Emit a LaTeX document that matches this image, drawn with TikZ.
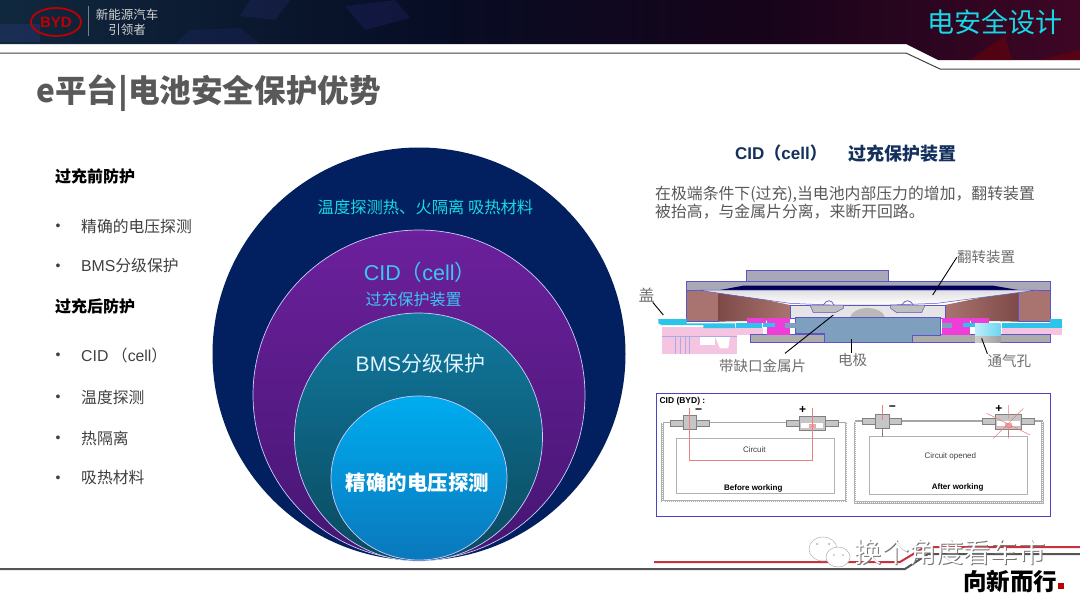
\documentclass[tikz,border=0pt]{standalone}
\usepackage{fontspec}
\setmainfont{Noto Sans CJK SC}
\newfontfamily\latinf{Liberation Sans}
\usetikzlibrary{shapes.geometric}
\definecolor{txtgray}{HTML}{404040}
\definecolor{ttlgray}{HTML}{595959}
\definecolor{cya}{HTML}{16D8E6}
\definecolor{cyb}{HTML}{3AC8F0}
\definecolor{lblgray}{HTML}{6E6E6E}
\definecolor{csline}{HTML}{5A55C8}
\definecolor{brownA}{HTML}{A9746F}
\definecolor{brownB}{HTML}{7E4A48}
\definecolor{platg}{HTML}{A8A8B6}
\definecolor{magen}{HTML}{F03CD8}
\definecolor{cyanb}{HTML}{2CC4EA}
\definecolor{pinkb}{HTML}{F4C4E0}
\definecolor{elec}{HTML}{7F9FBE}
\definecolor{wallg}{HTML}{B0B0B0}
\definecolor{redc}{HTML}{E88080}
\definecolor{hdA}{HTML}{10283E}
\definecolor{hdB}{HTML}{070D24}
\definecolor{hdC}{HTML}{16041A}
\definecolor{hdD}{HTML}{3E0624}
\definecolor{cB}{HTML}{02205F}
\definecolor{cC}{HTML}{6C209C}
\definecolor{cD}{HTML}{451672}
\definecolor{cE}{HTML}{11789E}
\definecolor{cF}{HTML}{0A4A5E}
\definecolor{cG}{HTML}{00ACF0}
\definecolor{cH}{HTML}{0A78BC}
\definecolor{frameb}{HTML}{4A44C0}
\definecolor{redl}{HTML}{C8323C}
\definecolor{grayl}{HTML}{555555}
\definecolor{rtitle}{HTML}{14305C}
\pgfdeclarehorizontalshading{hdshade}{100bp}{color(0bp)=(hdA); color(25bp)=(hdA); color(45bp)=(hdB); color(60bp)=(hdC); color(75bp)=(hdD); color(100bp)=(hdD)}
\tikzset{
 fs/.style={font=\fontsize{#1}{#1}\selectfont},
 listhead/.style={anchor=west,inner sep=0pt,text=black,font=\fontsize{16}{16}\selectfont\bfseries},
 listitem/.style={anchor=west,inner sep=0pt,text=txtgray,font=\fontsize{15.8}{16}\selectfont},
 bul/.style={anchor=center,inner sep=0pt,text=txtgray,font=\latinf\fontsize{14}{14}\selectfont},
 cspart/.style={draw=csline,line width=0.5pt},
 lead/.style={draw=black,line width=0.9pt},
 cslabel/.style={text=lblgray,inner sep=0pt},
 wall/.style={draw=wallg,line width=2.6pt},
 hatchw/.style={draw=white,line width=.5pt,dash pattern=on 1pt off 1pt},
 term/.style={draw=gray,fill=gray!45,line width=0.4pt},
 circ/.style={text=black!75,inner sep=0pt,font=\latinf\fontsize{8}{9}\selectfont},
 circb/.style={text=black,inner sep=0pt,font=\latinf\bfseries\fontsize{8}{9}\selectfont},
 signn/.style={text=black,inner sep=0pt,font=\latinf\bfseries\fontsize{12}{12}\selectfont},
 redw/.style={draw=redc,line width=0.6pt},
 ring/.style={draw=white!80!blue,line width=.7pt,shading angle=45},
}
\begin{document}
\begin{tikzpicture}[x=1pt,y=-1pt]
\useasboundingbox (0,0) rectangle (1080,600);
\fill[white] (0,0) rectangle (1080,600);
% header band
\shade[shading=hdshade] (0,0) -- (1080,0) -- (1080,60) -- (938,60) -- (906,44) -- (0,44) -- cycle;
\fill[blue!40!gray,opacity=.18] (0,24) rectangle (40,42);
\fill[blue!45!gray,opacity=.14] (250,0) -- (290,0) -- (275,20) -- (240,16) -- cycle;
\fill[blue!50!gray,opacity=.16] (345,6) -- (395,0) -- (410,18) -- (365,30) -- cycle;
\fill[blue!50!gray,opacity=.12] (190,30) -- (240,28) -- (260,44) -- (175,44) -- cycle;
\fill[red!50!black,opacity=.4] (970,60) -- (1005,35) -- (1012,60) -- cycle;
\fill[red!50!black,opacity=.4] (1040,60) -- (1080,50) -- (1080,60) -- cycle;
\draw[black!75,line width=1pt] (0,53) -- (906,53) -- (940,69) -- (1080,69);
% logo
\node[ellipse,draw=red!75!black,line width=1.8pt,minimum width=50pt,minimum height=28pt,inner sep=0pt,text=red!75!black,font=\latinf\bfseries\fontsize{15}{15}\selectfont] (logo) at (56,22) {BYD};
\draw[gray,line width=.5pt] (88,6) -- (88,36);
\node[text=gray!35,fs=12.5] (slogana) at (127,14.5) {新能源汽车};
\node[text=gray!35,fs=12.5] (sloganb) at (127,30) {引领者};
\node[text=cya,fs=27] (section) at (995,22) {电安全设计};
\node[anchor=west,text=ttlgray,inner sep=0pt,font=\fontsize{31.6}{32}\selectfont\bfseries] (title) at (36,93) {e平台|电池安全保护优势};
% left list
\node[listhead] (h1) at (55,176) {过充前防护};
\node[bul] (b1) at (58,227) {•};
\node[listitem] (i1) at (81,226) {精确的电压探测};
\node[bul] (b2) at (58,267) {•};
\node[listitem] (i2) at (81,266) {{\latinf BMS}分级保护};
\node[listhead] (h2) at (55,306) {过充后防护};
\node[bul] (b3) at (58,356) {•};
\node[listitem] (i3) at (81,355) {{\latinf CID} （{\latinf cell}）};
\node[bul] (b4) at (58,398) {•};
\node[listitem] (i4) at (81,397) {温度探测};
\node[bul] (b5) at (58,439) {•};
\node[listitem] (i5) at (81,438) {热隔离};
\node[bul] (b6) at (58,479) {•};
\node[listitem] (i6) at (81,478) {吸热材料};
% circles
\fill[cB] (419,354) circle (206.5);
\shade[ring,top color=cC,bottom color=cD] (419,395) ellipse (166 and 165);
\shade[ring,top color=cE,bottom color=cF] (418.5,437) circle (124);
\shade[ring,top color=cG,bottom color=cH] (419,478) ellipse (88 and 82);
\node[text=cya,fs=16.3] (c1) at (425.5,207) {温度探测热、火隔离 吸热材料};
\node[text=cyb,font=\latinf\fontsize{21.5}{22}\selectfont,inner sep=0pt] (c2) at (420,272) {CID{\rmfamily\fontsize{21.5}{22}\selectfont（}cell{\rmfamily\fontsize{21.5}{22}\selectfont）}};
\node[text=cyb,fs=16] (c3) at (413.5,299) {过充保护装置};
\node[text=white!88!cyan,fs=21] (c4) at (420.5,364) {{\latinf BMS}分级保护};
\node[text=white,font=\fontsize{20.5}{21}\selectfont\bfseries] (c5) at (417.5,483) {精确的电压探测};
% right texts
\node[text=rtitle,anchor=west,inner sep=0pt,font=\fontsize{17}{18}\selectfont\bfseries] (r1) at (735,153) {{\latinf\bfseries CID}（{\latinf\bfseries cell}）};
\node[text=rtitle,anchor=west,inner sep=0pt,font=\fontsize{18}{18}\selectfont\bfseries] (r2) at (848,154) {过充保护装置};
\node[text=ttlgray,anchor=west,inner sep=0pt,fs=15.85] (p1) at (655,194) {在极端条件下(过充),当电池内部压力的增加，翻转装置};
\node[text=ttlgray,anchor=west,inner sep=0pt,fs=15.85] (p2) at (655,212) {被抬高，与金属片分离，来断开回路。};
% cross-section
\begin{scope}[shift={(630,240)},x=0.33333pt,y=-0.33333pt]
 % pink lower parts
 \fill[pinkb] (97,262) -- (320,262) -- (320,342) -- (97,342) -- cycle;
 \fill[white] (210,290) rectangle (255,315);
 \fill[white] (255,290) -- (300,290) -- (295,325) -- (270,325) -- cycle;
 \draw[csline!50,line width=.4pt] (135,290) -- (135,342) (150,290) -- (150,342) (165,290) -- (165,342) (178,290) -- (178,342) (97,288) -- (320,288);
 \fill[pinkb] (320,265) rectangle (400,285);
 \fill[pinkb] (1115,265) rectangle (1295,285);
 % plates & caps
 \fill[platg,cspart] (350,92) rectangle (776,128);
 \fill[platg,cspart] (820,125) rectangle (875,140);
 \fill[platg,cspart] (170,125) rectangle (1260,150);
 \fill[black!65!blue] (340,137) -- (1090,137) -- (1165,150) -- (270,150) -- cycle;
 % brown blocks
 \fill[brownA,cspart] (170,150) -- (265,150) -- (265,245) -- (170,245) -- cycle;
 \fill[brownA,cspart] (1165,150) -- (1260,150) -- (1260,245) -- (1165,245) -- cycle;
 \shade[left color=brownB,right color=brownA] (265,150) -- (480,195) -- (480,240) -- (265,245) -- cycle;
 \shade[left color=brownA,right color=brownB] (1165,150) -- (945,195) -- (945,240) -- (1165,245) -- cycle;
 % dome
 \shade[top color=white!75!gray,bottom color=white,draw=csline,line width=.5pt] (200,150) -- (1225,150) -- (920,190) -- (780,195) -- (600,195) -- (480,190) -- cycle;
 % central
 \fill[gray!20,cspart] (482,195) rectangle (945,235);
 \fill[gray!50,cspart] (540,195) -- (640,195) -- (640,205) -- (615,218) -- (550,218) -- cycle;
 \fill[gray!50,cspart] (782,195) -- (885,195) -- (875,218) -- (800,218) -- (782,205) -- cycle;
 \fill[gray!55] (660,232) .. controls (670,195) and (755,195) .. (765,232) -- cycle;
 \draw[csline,line width=.7pt] (580,195) .. controls (590,178) and (605,178) .. (612,195) (815,195) .. controls (825,178) and (840,178) .. (850,195);
 % grey lower
 \fill[gray!65,cspart] (360,282) rectangle (583,308);
 \fill[gray!65,cspart] (848,282) rectangle (1262,308);
 % electrode
 \fill[elec,cspart] (497,232) -- (930,232) -- (930,285) -- (848,285) -- (848,308) -- (583,308) -- (583,280) -- (497,280) -- cycle;
 % magenta
 \fill[magen] (352,235) rectangle (408,250);
 \fill[magen] (412,235) rectangle (480,285);
 \fill[elec] (465,250) rectangle (497,265);
 \fill[magen] (935,235) rectangle (1020,285);
 \fill[elec] (935,250) rectangle (965,265);
 \fill[magen] (1022,235) rectangle (1078,250);
 % cyan
 \fill[cyanb] (85,237) -- (170,237) -- (170,250) -- (315,250) -- (315,264) -- (220,264) -- (220,255) -- (95,255) -- (85,250) -- cycle;
 \fill[cyanb] (318,250) rectangle (395,264);
 \fill[cyanb] (398,250) rectangle (435,262);
 \fill[cyanb] (1000,250) rectangle (1035,262);
 \fill[cyanb] (1115,250) rectangle (1295,264);
 \fill[cyanb] (1260,237) rectangle (1295,250);
 % vent
 \shade[left color=gray!40,right color=gray!75] (1035,285) rectangle (1112,308);
 \shade[left color=cyanb!30,right color=cyanb!70] (1035,250) rectangle (1112,285);
 \coordinate (lidend) at (100,225);
 \coordinate (flipend) at (908,165);
 \coordinate (metalend) at (610,225);
 \coordinate (metalstart) at (465,340);
 \coordinate (electrodeend) at (663,298);
 \coordinate (electrodestart) at (663,338);
 \coordinate (ventend) at (1055,295);
 \node[cslabel,fs=16] (lid) at (50,165) {盖};
 \node[cslabel,fs=14.5] (flip) at (1068,52) {翻转装置};
 \node[cslabel,fs=14.5] (metal) at (398,377) {带缺口金属片};
 \node[cslabel,fs=14.5] (electrode) at (668,360) {电极};
 \node[cslabel,fs=14.5] (vent) at (1138,362) {通气孔};
 \draw[lead] (lid) -- (lidend);
 \draw[lead] (flip.west) -- (flipend);
 \draw[lead] (metalstart) -- (metalend);
 \draw[lead] (electrodestart) -- (electrodeend);
 \draw[lead] (vent.north west) -- (ventend);
\end{scope}
% CID panel
\begin{scope}[shift={(650,385)},x=0.33333pt,y=-0.33333pt]
 \draw[frameb,line width=1pt] (20,25) rectangle (1200,393);
 \node[anchor=west,inner sep=0pt,text=black,font=\latinf\bfseries\fontsize{8.5}{9}\selectfont] (cidlbl) at (28,50) {CID (BYD) :};
 % left cell
 \draw[wall] (38,113) -- (38,348) -- (588,348) -- (588,113);
 \draw[hatchw] (38,113) -- (38,348) -- (588,348) -- (588,113);
 \draw[draw=gray!70,line width=1.6pt] (38,113) -- (588,113);
 \draw[gray!60,line width=.5pt] (80,160) rectangle (552,325);
 \fill[term] (62,105) rectangle (178,123);
 \fill[term] (100,92) rectangle (140,132);
 \fill[term] (410,105) rectangle (565,123);
 \fill[term] (448,95) -- (525,95) -- (525,135) -- (448,135) -- cycle;
 \fill[white] (452,115) -- (520,115) -- (520,128) -- (452,128) -- cycle;
 \draw[redw] (118,70) -- (118,225) -- (487,225) -- (487,70);
 \fill[redc,opacity=.7] (477,118) rectangle (497,128);
 \node[signn] (m1) at (146,80) {−};
 \node[signn] (p1b) at (458,76) {+};
 \node[circ] (cir1) at (313,193) {Circuit};
 \node[circb] (bw) at (310,309) {Before working};
 % right cell
 \draw[wall] (615,110) -- (615,352) -- (1178,352) -- (1178,110);
 \draw[hatchw] (615,110) -- (615,352) -- (1178,352) -- (1178,110);
 \draw[draw=gray!70,line width=1.6pt] (615,108) -- (1178,108);
 \draw[gray!60,line width=.5pt] (657,155) rectangle (1132,327);
 \fill[term] (637,100) rectangle (755,118);
 \fill[term] (676,88) rectangle (718,130);
 \draw[gray,line width=1pt] (697,130) -- (697,155) (1075,130) -- (1075,155);
 \fill[term] (997,100) rectangle (1152,118);
 \fill[term] (1035,88) -- (1115,88) -- (1115,133) -- (1035,133) -- cycle;
 \fill[white] (1040,108) -- (1110,108) -- (1110,125) -- (1040,125) -- cycle;
 \draw[redw] (697,60) -- (697,105);
 \draw[redw] (1075,60) -- (1075,100) (1075,125) -- (1075,160) (1010,85) -- (1140,150) (1120,70) -- (1030,160) (1040,125) -- (1110,125);
 \fill[redc,opacity=.7] (1065,115) rectangle (1085,128);
 \node[signn] (m2) at (727,71) {−};
 \node[signn] (p2b) at (1047,71) {+};
 \node[circ] (cir2) at (901,214) {Circuit opened};
 \node[circb] (aw) at (923,307) {After working};
\end{scope}
% footer
\draw[redl,line width=2pt] (654,562) -- (900,562) -- (925,547) -- (1080,547);
\draw[grayl,line width=2pt] (0,569) -- (905,569) -- (928,554) -- (1080,554);
% watermark
\fill[white,draw=gray!60,line width=.5pt] (823,549) ellipse (14 and 12);
\fill[white,draw=gray!60,line width=.5pt] (838,557) ellipse (12 and 10);
\fill[gray!70] (817,544) circle (1) (829,544) circle (1) (834,555) circle (.9) (843,555) circle (.9);
\node[text=black!55,inner sep=0pt,fs=27.2] (wm2) at (951,553) {换个角度看车市};
\node[text=white,inner sep=0pt,fs=27.2] (wm) at (950,552) {换个角度看车市};
\node[text=black,inner sep=0pt,font=\fontsize{23.5}{24}\selectfont\bfseries] (slog) at (1010,581) {向新而行};
\fill[red!75!black] (1058,583) rectangle (1064,589);
\end{tikzpicture}
\end{document}
